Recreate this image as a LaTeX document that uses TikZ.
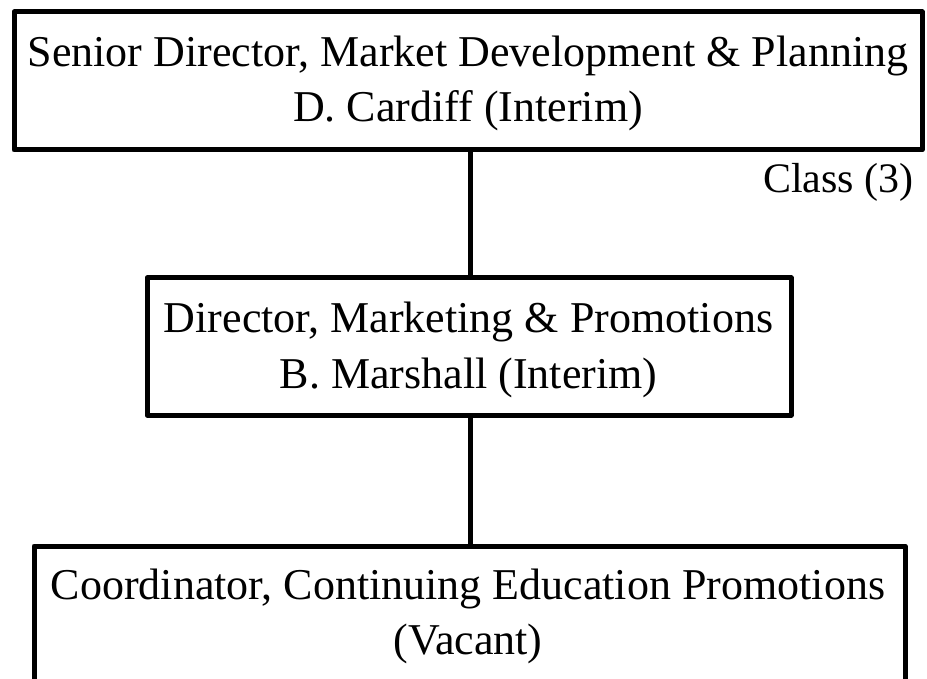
\documentclass[tikz,border=0pt]{standalone}
\usepackage{fontspec}
\setmainfont{Liberation Serif}
\begin{document}
\begin{tikzpicture}[x=1pt,y=-1pt,
  orgbox/.style={draw=black, line width=5pt, line join=round, fill=white, inner sep=0pt},
  orgtext/.style={anchor=base, inner sep=0pt, font=\fontsize{44}{55}\selectfont},
  link/.style={draw=black, line width=5pt}]
\useasboundingbox (0,0) rectangle (927,679);
\fill[white] (0,0) rectangle (927,679);
% boxes
\node[orgbox, minimum width=908pt, minimum height=138pt] (top) at (468,81) {};
\node[orgbox, minimum width=644pt, minimum height=137pt] (mid) at (469,346.5) {};
\node[orgbox, minimum width=871pt, minimum height=160pt] (bot) at (469.5,626) {};
% connectors
\draw[link] (top.south -| 470,0) -- (mid.north -| 470,0);
\draw[link] (mid.south -| 470,0) -- (bot.north -| 470,0);
% texts
\node[orgtext] (t1) at (468,67) {Senior Director, Market Development \& Planning};
\node[orgtext] (t2) at (468,122) {D. Cardiff (Interim)};
\node[orgtext] (m1) at (468.5,333) {Director, Marketing \& Promotions};
\node[orgtext] (m2) at (468.5,388) {B. Marshall (Interim)};
\node[orgtext] (b1) at (468,599) {Coordinator, Continuing Education Promotions};
\node[orgtext] (b2) at (468,654) {(Vacant)};
\node[orgtext, anchor=base west, font=\fontsize{42}{50}\selectfont] (cls) at (763,193) {Class (3)};
\end{tikzpicture}
\end{document}
